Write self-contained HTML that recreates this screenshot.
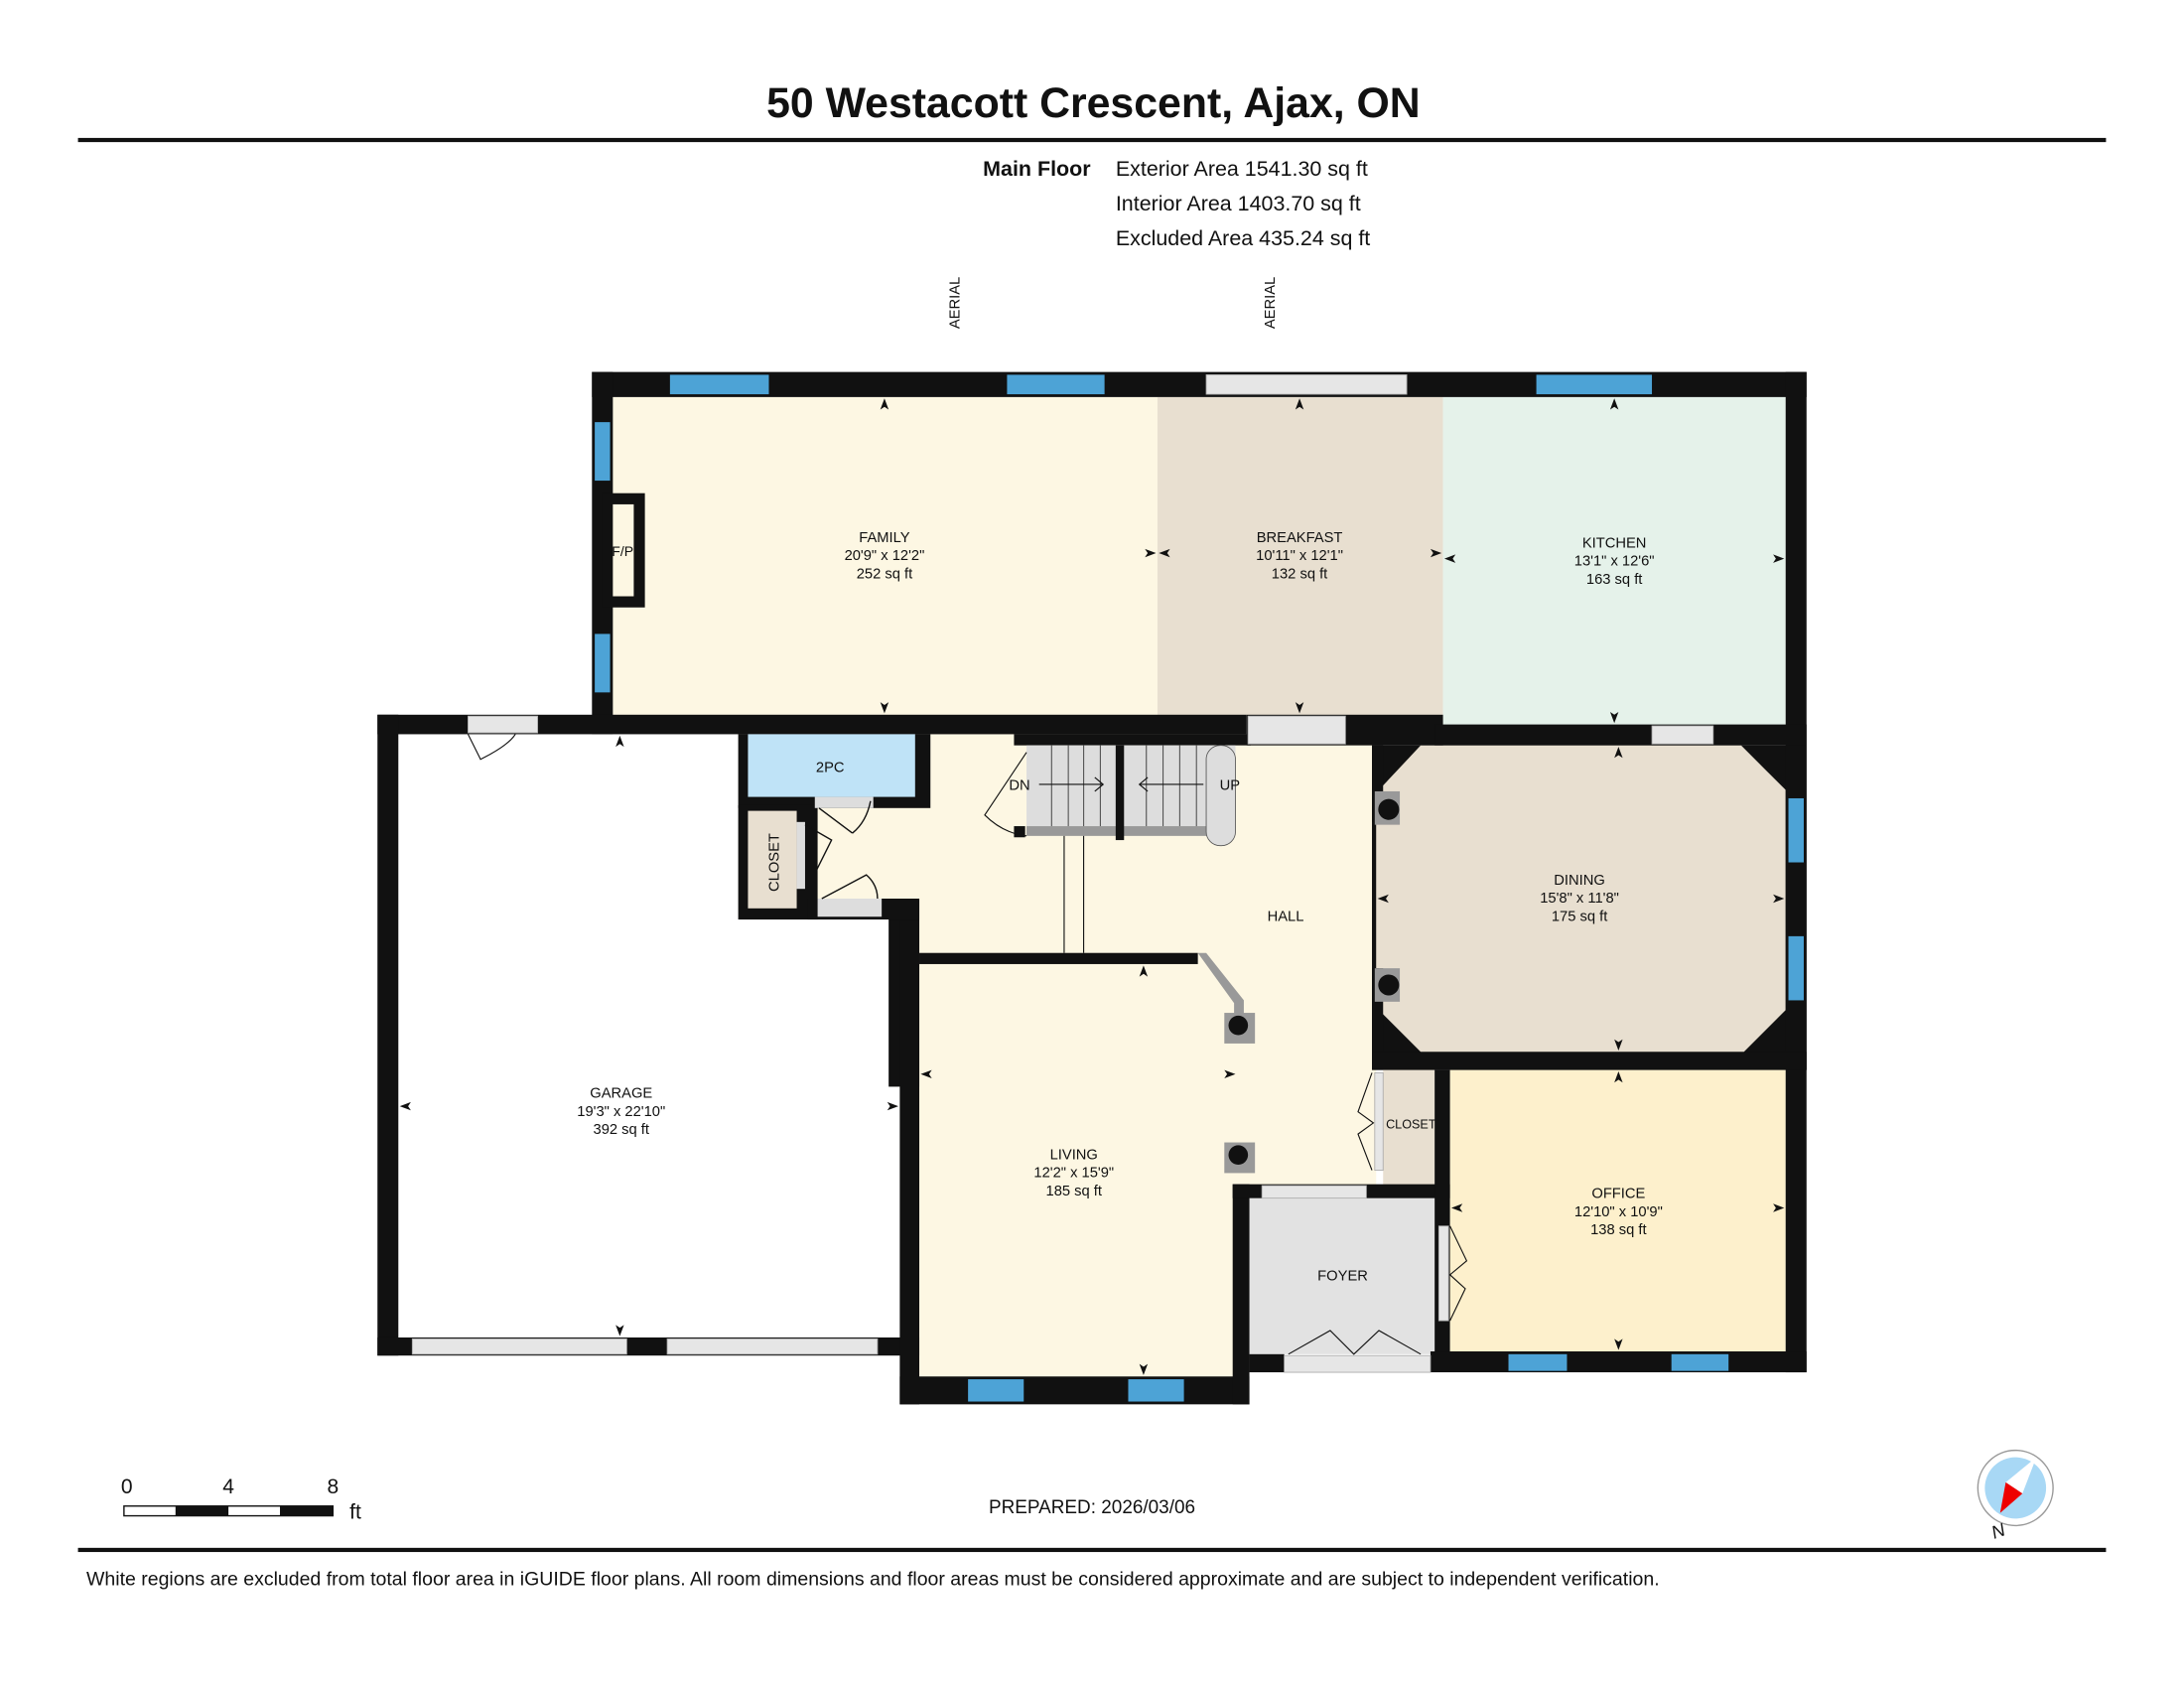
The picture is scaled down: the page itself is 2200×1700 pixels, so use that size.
<!DOCTYPE html>
<html><head><meta charset="utf-8"><style>
html,body{margin:0;padding:0;background:#fff}
svg{display:block}
text{font-family:"Liberation Sans",Arial,sans-serif;fill:#111}
.r{font-size:10.5px;text-anchor:middle}
</style></head><body>
<svg width="2200" height="1700" viewBox="0 0 1568 1211.6" preserveAspectRatio="none" xmlns="http://www.w3.org/2000/svg">
<rect width="1568" height="1212" fill="#fff"/>
<text x="785" y="84" font-size="30.5" font-weight="bold" text-anchor="middle">50 Westacott Crescent, Ajax, ON</text>
<rect x="56" y="99" width="1456" height="3" fill="#111"/>
<text x="783" y="126" font-size="15.3" font-weight="bold" text-anchor="end">Main Floor</text>
<text x="801" y="126" font-size="15.3">Exterior Area 1541.30 sq ft</text>
<text x="801" y="151" font-size="15.3">Interior Area 1403.70 sq ft</text>
<text x="801" y="176" font-size="15.3">Excluded Area 435.24 sq ft</text>
<text transform="translate(689,236) rotate(-90)" font-size="10.5">AERIAL</text>
<text transform="translate(915,236) rotate(-90)" font-size="10.5">AERIAL</text>

<!-- room fills -->
<rect x="286" y="527" width="360" height="435" fill="#fff"/>
<rect x="440" y="285" width="391" height="230" fill="#fdf7e3"/>
<rect x="831" y="285" width="205" height="230" fill="#e8dfd0"/>
<rect x="1036" y="285" width="246" height="237" fill="#e5f2ea"/>
<polygon points="530,527 988,527 988,852 646,852 646,655 530,655" fill="#fdf7e3"/>
<rect x="660" y="690" width="228" height="300" fill="#fdf7e3"/>
<!-- dining -->
<rect x="985" y="535" width="312" height="233" fill="#111"/>
<polygon points="1020,535 1250,535 1282,567 1282,725 1252,755 1020,755 990,725 990,567" fill="#e8dfd0"/>
<rect x="988" y="590" width="6" height="105" fill="#e8dfd0"/>
<rect x="1041" y="768" width="241" height="202" fill="#fdf0cc"/>
<rect x="993" y="765" width="37" height="87" fill="#e8dfd0"/>
<rect x="897" y="860" width="133" height="112" fill="#e2e2e2"/>

<!-- walls -->
<g fill="#111">
<rect x="425" y="267" width="872" height="18"/>
<rect x="425" y="267" width="15" height="260"/>
<rect x="1282" y="267" width="15" height="718"/>
<rect x="271" y="513" width="624" height="14"/>
<rect x="895" y="513" width="141" height="22"/>
<rect x="1030" y="520" width="267" height="15"/>
<rect x="271" y="513" width="15" height="460"/>
<rect x="271" y="960" width="389" height="13"/>
<rect x="638" y="645" width="22" height="135"/>
<rect x="646" y="645" width="14" height="363"/>
<rect x="646" y="988" width="251" height="20"/>
<rect x="660" y="684" width="200" height="8"/>
<rect x="885" y="850" width="12" height="158"/>
<rect x="885" y="850" width="156" height="10"/>
<rect x="1030" y="768" width="11" height="215"/>
<rect x="985" y="755" width="312" height="13"/>
<rect x="1027" y="970" width="270" height="15"/>
<rect x="897" y="972" width="25" height="13"/>
<rect x="530" y="527" width="138" height="53"/>
<rect x="530" y="578" width="57" height="82"/>
<rect x="580" y="645" width="80" height="15"/>
<rect x="728" y="527" width="170" height="8"/>
<rect x="985" y="535" width="8" height="55"/>
<rect x="985" y="695" width="8" height="60"/>
</g>
<polygon points="860,684 866,684 893,718 893,728 886,728 886,720" fill="#999"/>
<!-- fireplace -->
<rect x="432" y="354" width="31" height="82" fill="#111"/>
<rect x="440" y="362" width="15" height="66" fill="#fdf7e3"/>
<text x="447" y="399" font-size="10" text-anchor="middle">F/P</text>
<!-- 2pc, closet -->
<rect x="537" y="527" width="120" height="45" fill="#bfe3f7"/>
<text x="596" y="554" class="r">2PC</text>
<rect x="537" y="582" width="35" height="70" fill="#e8dfd0"/>
<text transform="translate(559,640) rotate(-90)" font-size="10.5">CLOSET</text>
<rect x="585" y="572" width="42" height="8" fill="#ddd"/>
<rect x="587" y="645" width="46" height="13" fill="#ddd"/>
<rect x="572" y="590" width="6" height="48" fill="#ddd"/>
<g stroke="#111" fill="none" stroke-width="1">
<path d="M588 580 L612 598 M612 598 Q622 590 625 575"/>
<path d="M578 592 L597 603 L580 637"/>
<path d="M590 645 L622 628 Q630 635 630 645"/>
</g>
<!-- stairs -->
<rect x="737" y="535" width="150" height="58" fill="#ddd"/>
<rect x="737" y="593" width="132" height="7" fill="#999"/>
<rect x="866" y="535" width="21" height="72" rx="10" fill="#ddd" stroke="#555" stroke-width="0.6"/>
<rect x="801" y="535" width="6" height="68" fill="#111"/>
<g stroke="#555" stroke-width="0.8">
<line x1="755" y1="535" x2="755" y2="593"/><line x1="767" y1="535" x2="767" y2="593"/><line x1="778" y1="535" x2="778" y2="593"/><line x1="790" y1="535" x2="790" y2="593"/>
<line x1="823" y1="535" x2="823" y2="593"/><line x1="835" y1="535" x2="835" y2="593"/><line x1="847" y1="535" x2="847" y2="593"/><line x1="859" y1="535" x2="859" y2="593"/>
</g>
<g stroke="#111" stroke-width="0.8" fill="none">
<line x1="764" y1="600" x2="764" y2="684"/><line x1="778" y1="600" x2="778" y2="684"/>
<path d="M737 540 L707 585 Q720 598 737 600"/>
<path d="M746 563 L792 563 M786 558 L792 563 L786 568"/>
<path d="M864 563 L818 563 M824 558 L818 563 L824 568"/>
</g>
<rect x="728" y="593" width="8" height="8" fill="#111"/>
<text x="732" y="567" font-size="10.5" text-anchor="middle">DN</text>
<text x="883" y="567" font-size="10.5" text-anchor="middle">UP</text>
<!-- columns -->
<g>
<rect x="987" y="568" width="18" height="24" fill="#999"/><circle cx="997" cy="581" r="7.5" fill="#111"/>
<rect x="987" y="695" width="18" height="24" fill="#999"/><circle cx="997" cy="707" r="7.5" fill="#111"/>
<rect x="879" y="727" width="22" height="22" fill="#999"/><circle cx="889" cy="736" r="7" fill="#111"/>
<rect x="879" y="820" width="22" height="22" fill="#999"/><circle cx="889" cy="829" r="7" fill="#111"/>
</g>
<!-- windows / doors -->
<g fill="#4da3d6">
<rect x="481" y="269" width="71" height="14"/><rect x="723" y="269" width="70" height="14"/><rect x="1103" y="269" width="83" height="14"/>
<rect x="427" y="303" width="11" height="42"/><rect x="427" y="455" width="11" height="42"/>
<rect x="1284" y="573" width="11" height="46"/><rect x="1284" y="672" width="11" height="46"/>
<rect x="695" y="990" width="40" height="16"/><rect x="810" y="990" width="40" height="16"/>
<rect x="1083" y="972" width="42" height="12"/><rect x="1200" y="972" width="41" height="12"/>
</g>
<g fill="#e6e6e6" stroke="#aaa" stroke-width="0.6">
<rect x="866" y="269" width="144" height="14"/>
<rect x="336" y="514" width="50" height="12"/>
<rect x="896" y="514" width="70" height="20"/>
<rect x="1186" y="521" width="44" height="13"/>
<rect x="296" y="961" width="154" height="11"/><rect x="479" y="961" width="151" height="11"/>
<rect x="906" y="851" width="75" height="9"/>
<rect x="922" y="973" width="105" height="12"/>
<rect x="987" y="770" width="6" height="70"/>
<rect x="1033" y="880" width="7" height="68"/>
</g>
<g stroke="#111" stroke-width="0.8" fill="none">
<path d="M336 527 L345 545 Q365 535 370 527"/>
<path d="M985 770 L975 798 L986 806 L975 814 L985 840"/>
<path d="M1041 880 L1053 905 L1041 915 L1052 925 L1041 948"/>
<path d="M925 972 L955 955 L972 972 L990 955 L1020 972"/>
</g>
<!-- room labels -->
<text x="635" y="389" class="r">FAMILY</text><text x="635" y="402" class="r">20'9" x 12'2"</text><text x="635" y="415" class="r">252 sq ft</text>
<text x="933" y="389" class="r">BREAKFAST</text><text x="933" y="402" class="r">10'11" x 12'1"</text><text x="933" y="415" class="r">132 sq ft</text>
<text x="1159" y="393" class="r">KITCHEN</text><text x="1159" y="406" class="r">13'1" x 12'6"</text><text x="1159" y="419" class="r">163 sq ft</text>
<text x="1134" y="635" class="r">DINING</text><text x="1134" y="648" class="r">15'8" x 11'8"</text><text x="1134" y="661" class="r">175 sq ft</text>
<text x="923" y="661" class="r">HALL</text>
<text x="446" y="788" class="r">GARAGE</text><text x="446" y="801" class="r">19'3" x 22'10"</text><text x="446" y="814" class="r">392 sq ft</text>
<text x="771" y="832" class="r">LIVING</text><text x="771" y="845" class="r">12'2" x 15'9"</text><text x="771" y="858" class="r">185 sq ft</text>
<text x="1162" y="860" class="r">OFFICE</text><text x="1162" y="873" class="r">12'10" x 10'9"</text><text x="1162" y="886" class="r">138 sq ft</text>
<text x="964" y="919" class="r">FOYER</text>
<text x="1013" y="810" font-size="9" text-anchor="middle">CLOSET</text>
<!-- dimension markers -->
<g fill="#111">
<path d="M635 286 l-3 8 l3 -2 l3 2z"/><path d="M635 512 l-3 -8 l3 2 l3 -2z"/>
<path d="M830 397 l-8 -3 l2 3 l-2 3z"/><path d="M832 397 l8 -3 l-2 3 l2 3z"/>
<path d="M933 286 l-3 8 l3 -2 l3 2z"/><path d="M933 512 l-3 -8 l3 2 l3 -2z"/>
<path d="M1035 397 l-8 -3 l2 3 l-2 3z"/><path d="M1037 401 l8 -3 l-2 3 l2 3z"/>
<path d="M1159 286 l-3 8 l3 -2 l3 2z"/><path d="M1159 519 l-3 -8 l3 2 l3 -2z"/><path d="M1281 401 l-8 -3 l2 3 l-2 3z"/>
<path d="M1162 536 l-3 8 l3 -2 l3 2z"/><path d="M1162 754 l-3 -8 l3 2 l3 -2z"/><path d="M989 645 l8 -3 l-2 3 l2 3z"/><path d="M1281 645 l-8 -3 l2 3 l-2 3z"/>
<path d="M445 528 l-3 8 l3 -2 l3 2z"/><path d="M445 959 l-3 -8 l3 2 l3 -2z"/><path d="M287 794 l8 -3 l-2 3 l2 3z"/><path d="M645 794 l-8 -3 l2 3 l-2 3z"/>
<path d="M821 693 l-3 8 l3 -2 l3 2z"/><path d="M821 987 l-3 -8 l3 2 l3 -2z"/><path d="M661 771 l8 -3 l-2 3 l2 3z"/><path d="M887 771 l-8 -3 l2 3 l-2 3z"/>
<path d="M1162 769 l-3 8 l3 -2 l3 2z"/><path d="M1162 969 l-3 -8 l3 2 l3 -2z"/><path d="M1042 867 l8 -3 l-2 3 l2 3z"/><path d="M1281 867 l-8 -3 l2 3 l-2 3z"/>
</g>
<!-- scale -->
<text x="91" y="1072" font-size="15" text-anchor="middle">0</text>
<text x="164" y="1072" font-size="15" text-anchor="middle">4</text>
<text x="239" y="1072" font-size="15" text-anchor="middle">8</text>
<rect x="89" y="1081" width="150" height="7" fill="#fff" stroke="#111" stroke-width="1"/>
<rect x="126" y="1081" width="38" height="7" fill="#111"/><rect x="201" y="1081" width="38" height="7" fill="#111"/>
<text x="251" y="1090" font-size="15">ft</text>
<text x="784" y="1086" font-size="13.5" text-anchor="middle">PREPARED: 2026/03/06</text>
<!-- compass -->
<circle cx="1447" cy="1068" r="27" fill="#fff" stroke="#999" stroke-width="1"/>
<circle cx="1447" cy="1068" r="22" fill="#a8d8f5"/>
<polygon points="1462,1046 1452,1072 1440,1064" fill="#fff"/>
<polygon points="1440,1064 1452,1072 1436,1086" fill="#e00"/>
<text x="1430" y="1105" font-size="13" font-style="italic" transform="rotate(-20 1430 1100)">N</text>
<rect x="56" y="1111" width="1456" height="3" fill="#111"/>
<text x="62" y="1138" font-size="13.9">White regions are excluded from total floor area in iGUIDE floor plans. All room dimensions and floor areas must be considered approximate and are subject to independent verification.</text>
</svg>
</body></html>
